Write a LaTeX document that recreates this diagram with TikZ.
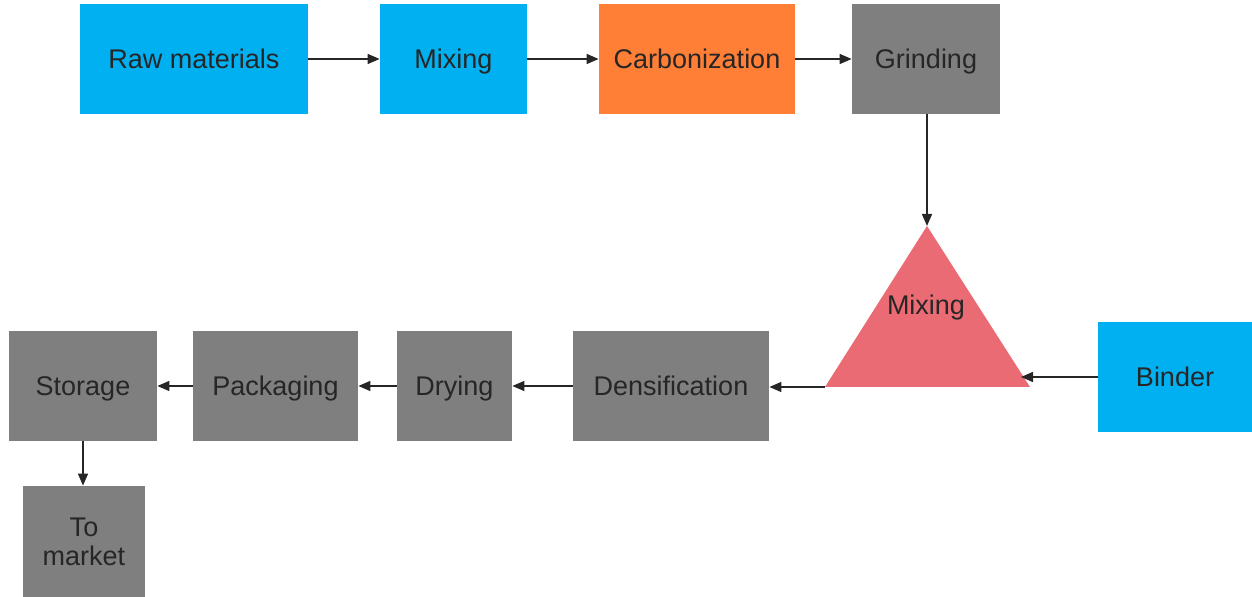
\documentclass[tikz,border=0pt]{standalone}
\usepackage{fontspec}
\setmainfont{Liberation Sans}
\usetikzlibrary{arrows.meta, positioning}

\definecolor{procblue}{HTML}{00B0F0}
\definecolor{procorange}{HTML}{FF7F37}
\definecolor{procgrey}{HTML}{7F7F7F}
\definecolor{procred}{HTML}{EA6B73}
\definecolor{proctext}{HTML}{262626}

\tikzset{
  proc/.style={rectangle, inner sep=0pt, minimum height=55pt, text=proctext,
    font=\fontsize{13.5}{14.5}\selectfont, align=center,
    text height=9.7pt, text depth=0pt},
  feed/.style={proc, fill=procblue},
  heat/.style={proc, fill=procorange},
  work/.style={proc, fill=procgrey},
  flow/.style={-{Triangle[length=6pt,width=5pt]}, line width=0.75pt, black!85}
}

\begin{document}
\begin{tikzpicture}[x=0.5pt,y=-0.5pt]
  \useasboundingbox (0,0) rectangle (1252,597);
  % top row
  \node[feed, minimum width=114pt] (raw) at (194,59) {Raw materials};
  \node[feed, minimum width=73.5pt] (mix1) at (453.5,59) {Mixing};
  \node[heat, minimum width=98pt] (carb) at (697,59) {Carbonization};
  \node[work, minimum width=74pt] (grind) at (926,59) {Grinding};
  % second mixing stage
  \coordinate (apex) at (927,226);
  \coordinate (baseL) at (825,387);
  \coordinate (baseR) at (1030,387);
  \coordinate (sideR) at (1021,377);
  \fill[procred] (apex) -- (baseL) -- (baseR) -- cycle;
  \node[proc, minimum height=0pt] (mix2) at (926,305) {Mixing};
  \node[feed, minimum width=77pt] (binder) at (1175,377) {Binder};
  % bottom row
  \node[work, minimum width=98pt] (dens) at (671,386) {Densification};
  \node[work, minimum width=57.5pt] (dry) at (454.5,386) {Drying};
  \node[work, minimum width=82.5pt] (pack) at (275.5,386) {Packaging};
  \node[work, minimum width=74pt] (store) at (83,386) {Storage};
  \node[work, minimum width=61pt, minimum height=55.5pt, text height=23.7pt]
    (market) at (84,541.5) {To\\market};
  \path[flow]
    (raw) edge (mix1)
    (mix1) edge (carb)
    (carb) edge (grind)
    (grind.south -| apex) edge (apex)
    (binder.west |- sideR) edge (sideR)
    (baseL) edge (dens.east |- baseL)
    (dens) edge (dry)
    (dry) edge (pack)
    (pack) edge (store)
    (store) edge (store.south |- market.north);
\end{tikzpicture}
\end{document}
